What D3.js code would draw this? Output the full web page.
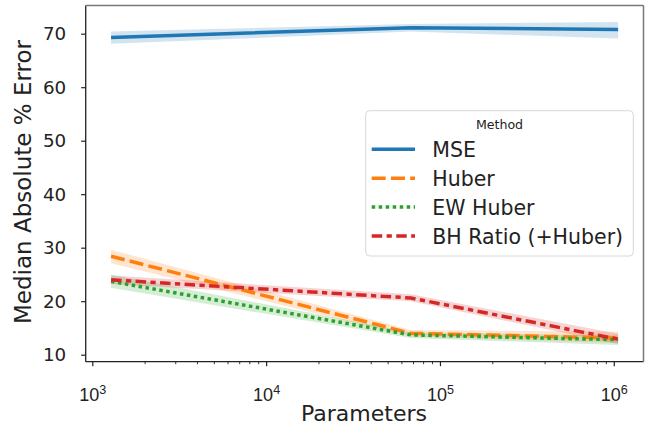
<!DOCTYPE html>
<html><head><meta charset="utf-8">
<script src="https://cdn.jsdelivr.net/npm/d3@7"></script>
<style>body{margin:0;background:#fff}svg{display:block;font-family:"DejaVu Sans",sans-serif}</style>
</head><body>
<svg id="c" width="647" height="427"></svg>
<script>
// ---- data ----
const params   = [1282, 68000, 1059000];
const methods  = ["MSE", "Huber", "EW Huber", "BH Ratio (+Huber)"];
const colors   = ["#1f77b4", "#ff7f0e", "#2ca02c", "#d62728"];
const mseMed   = [69.3, 71.1, 70.8];
const mseLo    = [68.1, 70.4, 69.1];
const mseHi    = [70.4, 71.8, 72.2];
const huberMed = [28.4, 14.0, 13.1];
const huberLo  = [27.1, 13.4, 12.2];
const huberHi  = [29.6, 14.6, 14.3];
const ewMed    = [23.7, 13.7, 12.8];
const ewLo     = [22.5, 13.1, 11.8];
const ewHi     = [25.0, 14.2, 13.6];
const bhMed    = [24.0, 20.6, 12.9];
const bhLo     = [23.2, 20.0, 12.0];
const bhHi     = [24.8, 21.3, 13.9];
const yTicks   = [10, 20, 30, 40, 50, 60, 70];
const xTicks   = [1e3, 1e4, 1e5, 1e6];
const xExp     = ["3", "4", "5", "6"];

const series = [
  {med: mseMed, lo: mseLo, hi: mseHi, dash: null},
  {med: huberMed, lo: huberLo, hi: huberHi, dash: "14,5.25"},
  {med: ewMed, lo: ewLo, hi: ewHi, dash: "3.5,3.5"},
  {med: bhMed, lo: bhLo, hi: bhHi, dash: "10.5,4.4,5.25,4.4"}
];

const L = 85.7, R = 643.5, T = 5.5, B = 361.7;
const x = d3.scaleLog().domain([Math.pow(10, 2.962), Math.pow(10, 6.171)]).range([L, R]);
const y = d3.scaleLinear().domain([8.69, 75.27]).range([B, T]);
const svg = d3.select("#c");

// bands
const area = d3.area().x((d, i) => x(params[i])).y0(d => y(d[0])).y1(d => y(d[1]));
series.forEach((s, k) => {
  svg.append("path").datum(s.lo.map((v, i) => [v, s.hi[i]]))
    .attr("d", area).attr("fill", colors[k]).attr("fill-opacity", 0.2);
});
// lines
const line = d3.line().x((d, i) => x(params[i])).y(d => y(d));
series.forEach((s, k) => {
  svg.append("path").datum(s.med).attr("d", line).attr("fill", "none")
    .attr("stroke", colors[k]).attr("stroke-width", 3.5)
    .attr("stroke-dasharray", s.dash);
});

// axes
const yAxis = d3.axisLeft(y).tickValues(yTicks).tickSize(4.5).tickPadding(15).tickFormat(d3.format("d"));
const gy = svg.append("g").attr("transform", `translate(${L},0)`).call(yAxis);
gy.select(".domain").remove();
gy.selectAll("text").attr("font-size", 18.3).attr("fill", "#222").attr("font-family", "DejaVu Sans");
gy.selectAll("line").attr("stroke", "#222").attr("stroke-width", 1.2);

const minor = [];
for (let e = 2; e <= 6; e++) for (let m = 2; m <= 9; m++) {
  const v = m * Math.pow(10, e);
  if (x(v) >= L && x(v) <= R) minor.push(v);
}
const gxm = svg.append("g").attr("transform", `translate(0,${B})`)
  .call(d3.axisBottom(x).tickValues(minor).tickSize(2.5).tickFormat(""));
gxm.select(".domain").remove();
gxm.selectAll("line").attr("stroke", "#222").attr("stroke-width", 0.9);

const gx = svg.append("g").attr("transform", `translate(0,${B})`)
  .call(d3.axisBottom(x).tickValues(xTicks).tickSize(4.5).tickFormat(""));
gx.select(".domain").remove();
gx.selectAll("line").attr("stroke", "#222").attr("stroke-width", 1.2);
gx.selectAll(".tick").each(function(d, i) {
  const t = d3.select(this).append("text").attr("y", 39.5).attr("text-anchor", "middle")
    .attr("font-size", 18).attr("fill", "#222").attr("dx", 0);
  t.append("tspan").text("10");
  t.append("tspan").text(xExp[i]).attr("font-size", 12.6).attr("dy", -7);
});

// spines
svg.append("line").attr("x1", L).attr("x2", L).attr("y1", T).attr("y2", B).attr("stroke", "#222").attr("stroke-width", 1.3);
svg.append("line").attr("x1", L).attr("x2", R).attr("y1", B).attr("y2", B).attr("stroke", "#222").attr("stroke-width", 1.3);
svg.append("line").attr("x1", L).attr("x2", R).attr("y1", T).attr("y2", T).attr("stroke", "#777").attr("stroke-width", 1.5);
svg.append("line").attr("x1", R).attr("x2", R).attr("y1", T).attr("y2", B).attr("stroke", "#777").attr("stroke-width", 1.5);

// axis labels
svg.append("text").attr("x", 364).attr("y", 421).attr("text-anchor", "middle")
  .attr("font-size", 22).attr("fill", "#222").text("Parameters");
svg.append("text").attr("transform", "translate(30.5,182) rotate(-90)").attr("text-anchor", "middle")
  .attr("font-size", 23).attr("fill", "#222").text("Median Absolute % Error");

// legend
const lg = svg.append("g");
lg.append("rect").attr("x", 365.7).attr("y", 110.7).attr("width", 267.6).attr("height", 145.3)
  .attr("rx", 4).attr("fill", "#fff").attr("fill-opacity", 0.8).attr("stroke", "#d8d8d8").attr("stroke-width", 1);
lg.append("text").attr("x", 499.5).attr("y", 128.7).attr("text-anchor", "middle")
  .attr("font-size", 12.6).attr("fill", "#222").text("Method");
methods.forEach((m, k) => {
  const cy = 149.3 + k * 28.9;
  lg.append("line").attr("x1", 371.7).attr("x2", 415).attr("y1", cy).attr("y2", cy)
    .attr("stroke", colors[k]).attr("stroke-width", 3.5).attr("stroke-dasharray", series[k].dash);
  lg.append("text").attr("x", 432.3).attr("y", cy + 8).attr("font-size", 20.5).attr("fill", "#222").text(m);
});
</script>
</body></html>
